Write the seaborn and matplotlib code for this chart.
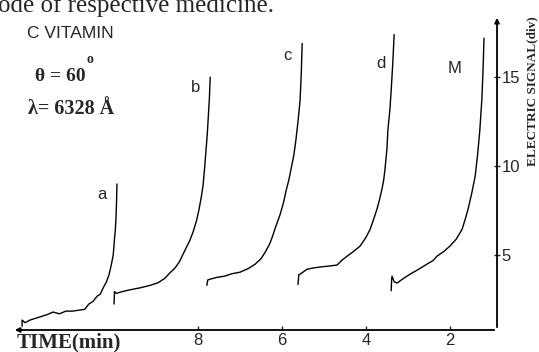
import pandas as pd
import seaborn as sns
import matplotlib.pyplot as plt

# curves: time (min) vs electric signal (div)
a_time = [12.19, 12.19, 12.12, 12.0, 11.8, 11.6, 11.45, 11.3, 11.15, 11.0, 10.85, 10.7, 10.6, 10.5, 10.4, 10.33, 10.25, 10.18, 10.12, 10.07, 10.02, 9.99, 9.97, 9.95, 9.94, 9.93]
a_signal = [1.0, 1.35, 1.2, 1.35, 1.5, 1.65, 1.8, 1.7, 1.85, 1.85, 1.9, 1.95, 2.25, 2.4, 2.7, 2.8, 3.2, 3.5, 3.9, 4.4, 5.0, 5.9, 6.4, 7.3, 8.1, 9.0]
b_time = [10.0, 9.99, 9.95, 9.8, 9.62, 9.4, 9.14, 8.95, 8.79, 8.65, 8.55, 8.45, 8.31, 8.2, 8.12, 8.04, 7.98, 7.92, 7.88, 7.84, 7.81, 7.78, 7.76, 7.73, 7.71]
b_signal = [2.25, 2.95, 2.85, 2.95, 3.05, 3.15, 3.3, 3.45, 3.7, 4.05, 4.27, 4.6, 5.28, 5.8, 6.29, 6.9, 7.53, 8.3, 8.93, 10.0, 10.9, 11.8, 12.6, 13.8, 15.0]
c_time = [7.79, 7.77, 7.71, 7.55, 7.36, 7.2, 7.0, 6.8, 6.64, 6.5, 6.4, 6.3, 6.24, 6.15, 6.05, 5.97, 5.9, 5.84, 5.79, 5.72, 5.67, 5.62, 5.57, 5.54, 5.52]
c_signal = [3.3, 3.6, 3.65, 3.75, 3.82, 3.95, 4.04, 4.25, 4.49, 4.8, 5.17, 5.6, 5.96, 6.6, 7.25, 7.9, 8.65, 9.2, 9.78, 10.6, 11.46, 12.5, 13.7, 15.3, 16.9]
d_time = [5.62, 5.6, 5.57, 5.4, 5.25, 5.1, 4.9, 4.69, 4.58, 4.45, 4.3, 4.14, 4.0, 3.9, 3.82, 3.74, 3.68, 3.62, 3.58, 3.55, 3.5, 3.48, 3.43, 3.4, 3.36, 3.33]
d_signal = [3.35, 3.9, 3.93, 4.21, 4.28, 4.33, 4.38, 4.44, 4.7, 4.94, 5.2, 5.51, 6.0, 6.46, 7.0, 7.58, 8.1, 8.71, 9.2, 9.78, 11.0, 12.0, 13.2, 14.27, 15.9, 17.4]
m_time = [3.40, 3.39, 3.38, 3.33, 3.26, 3.1, 2.95, 2.75, 2.55, 2.4, 2.31, 2.15, 2.0, 1.85, 1.71, 1.64, 1.57, 1.48, 1.40, 1.34, 1.29, 1.24, 1.21, 1.19]
m_signal = [3.0, 3.6, 3.82, 3.5, 3.43, 3.7, 3.93, 4.2, 4.49, 4.7, 4.94, 5.2, 5.51, 5.9, 6.46, 7.0, 7.58, 8.5, 9.44, 10.7, 12.0, 13.8, 15.6, 17.2]
curve_labels = ["a", "b", "c", "d", "M"]
label_time = [10.3, 8.06, 5.87, 3.64, 1.9]
label_signal = [8.4, 14.4, 16.2, 15.8, 15.5]
y_ticks = [5, 10, 15]
x_ticks = [8, 6, 4, 2]

sns.set_style("white")
plt.rcParams["font.family"] = ["Liberation Sans", "DejaVu Sans"]

frames = []
for name, t, s in zip(curve_labels, [a_time, b_time, c_time, d_time, m_time],
                      [a_signal, b_signal, c_signal, d_signal, m_signal]):
    frames.append(pd.DataFrame({"time": t, "signal": s, "curve": name}))
df = pd.concat(frames, ignore_index=True)

fig = plt.figure(figsize=(5.39, 3.52), dpi=100)
ax = fig.add_axes([0.0223, 0.0625, 0.8998, 0.8949])
sns.lineplot(data=df, x="time", y="signal", units="curve", estimator=None,
             sort=False, color="black", linewidth=1.0, ax=ax)

ax.set_xlim(12.43, 0.88)
ax.set_ylim(0.79, 18.5)
for sp in ax.spines.values():
    sp.set_visible(False)

# axes drawn as arrows
ax.annotate("", xy=(0, 0), xytext=(1, 0), xycoords="axes fraction",
            arrowprops=dict(arrowstyle="-|>", color="black", lw=1.3, mutation_scale=7))
ax.annotate("", xy=(1, 1), xytext=(1, 0), xycoords="axes fraction",
            arrowprops=dict(arrowstyle="-|>", color="black", lw=1.3, mutation_scale=7))

ax.set_xticks(x_ticks)
ax.set_xticklabels([str(v) for v in x_ticks])
ax.set_yticks(y_ticks)
ax.set_yticklabels([str(v) for v in y_ticks])
ax.yaxis.tick_right()
ax.tick_params(axis="x", direction="in", length=3, width=1, pad=2, labelsize=12, bottom=True)
ax.tick_params(axis="y", direction="inout", length=5, width=1, pad=1, labelsize=12, right=True, left=False)
ax.set_xlabel("")
ax.set_ylabel("")

for lab, t, s in zip(curve_labels, label_time, label_signal):
    ax.text(t, s, lab, fontsize=12, ha="center", va="center")

serif = ["Liberation Serif", "DejaVu Serif"]
fig.text(0.05, 0.905, "C VITAMIN", fontsize=12.5, va="center")
fig.text(0.065, 0.783, "θ = 60", fontsize=14, family=serif, weight="bold", va="center")
fig.text(0.161, 0.83, "o", fontsize=10, family=serif, weight="bold", va="center")
fig.text(0.052, 0.69, "λ= 6328 Å", fontsize=14.5, family=serif, weight="bold", va="center")
fig.text(0.031, 0.028, "TIME(min)", fontsize=15, family=serif, weight="bold", va="center")
fig.text(0.987, 0.74, "ELECTRIC SIGNAL(div)", fontsize=9.5, family=serif,
         weight="bold", rotation=90, ha="center", va="center")
fig.text(-0.003, 1 - 12 / 352, "ode of respective medicine.", fontsize=18,
         family=serif, va="baseline")

fig.savefig("out.png", dpi=100)
